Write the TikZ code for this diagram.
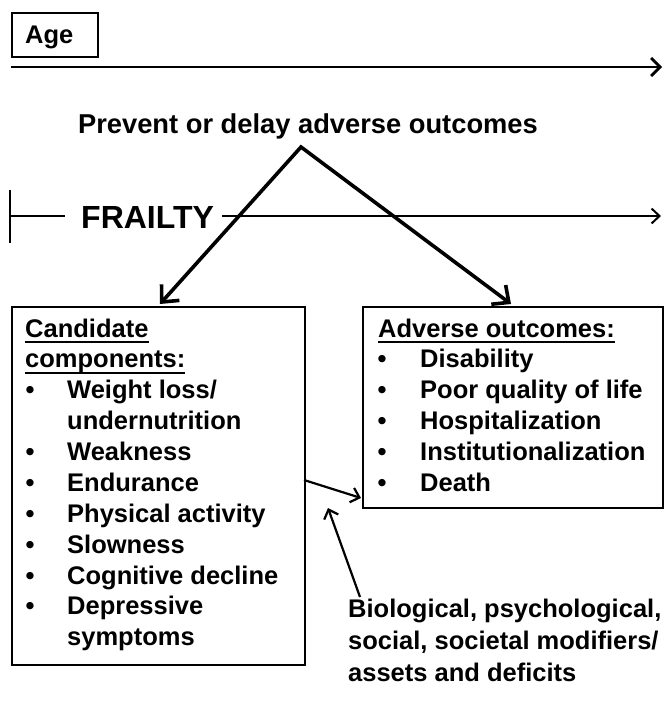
\documentclass[tikz,border=0pt]{standalone}
\usepackage{fontspec}
\setmainfont{Liberation Sans}
\usetikzlibrary{arrows.meta}
\begin{document}
\begin{tikzpicture}[x=1pt,y=-1pt,
  txt/.style={inner sep=0pt, anchor=base west, font=\bfseries\fontsize{25.5}{30}\selectfont},
  bigtxt/.style={inner sep=0pt, anchor=base west, font=\bfseries\fontsize{32}{38}\selectfont},
  boxframe/.style={draw, line width=1.5pt, inner sep=0pt, anchor=north west},
  uline/.style={line width=1.6pt},
  agearrow/.style={line width=2.8pt, -{Straight Barb[length=9pt,width=18pt]}},
  bigarrows/.style={line width=3.6pt, line join=miter,
     {Straight Barb[length=13pt,width=24pt]}-{Straight Barb[length=13pt,width=24pt]}},
  frailline/.style={line width=2pt},
  frailarrow/.style={line width=2pt, -{Straight Barb[length=8pt,width=15pt]}},
  smallarrow/.style={line width=2.2pt, -{Straight Barb[length=8pt,width=15pt]}}
]
\useasboundingbox (0,0) rectangle (664,705);

% Age
\node[boxframe, minimum width=86pt, minimum height=44pt] (agebox) at (11,12) {};
\node[txt] (agetxt) at (25,43) {Age};
\coordinate (age0) at (11,67);
\coordinate (age1) at (662,67);
\draw[agearrow] (age0) -- (age1);

% Prevent
\node[txt, anchor=base, font=\bfseries\fontsize{27.3}{32}\selectfont] (prev) at (308,133) {Prevent or delay adverse outcomes};
\coordinate (apex) at (301,147);
\coordinate (ltip) at (160,304);
\coordinate (rtip) at (511,304);

% Frailty
\coordinate (fbartop) at (10,190);
\coordinate (fbarbot) at (10,243);
\coordinate (fbar) at (10,216);
\coordinate (fleft) at (65,216);
\coordinate (fstart) at (222,216);
\coordinate (fend) at (661,216);
\draw[frailline] (fbartop) -- (fbarbot);
\draw[frailline] (fbar) -- (fleft);
\node[bigtxt] (frailty) at (81,228) {FRAILTY};
\draw[frailarrow] (fstart) -- (fend);

\draw[bigarrows] (ltip) -- (apex) -- (rtip);

% Boxes
\node[boxframe, minimum width=293pt, minimum height=358pt] (cand) at (11,306) {};
\node[boxframe, minimum width=300pt, minimum height=201pt] (adv) at (362,306) {};

% Left box text
\node[txt] (c1) at (25,337) {Candidate};
\node[txt] (c2) at (25,367) {components:};
\draw[uline] ([yshift=-5pt]c1.base west) -- ([yshift=-5pt]c1.base east);
\draw[uline] ([yshift=-6pt]c2.base west) -- ([yshift=-6pt]c2.base east);
\foreach \y/\t/\n in {398/Weight loss\slash/i1, 429/undernutrition/i1b, 460/Weakness/i2, 491/Endurance/i3, 522/Physical activity/i4, 553/Slowness/i5, 584/Cognitive decline/i6, 614/Depressive/i7, 645/symptoms/i7b}
  \node[txt] (\n) at (67,\y) {\t};
\foreach \y/\n in {398/b1, 460/b2, 491/b3, 522/b4, 553/b5, 584/b6, 614/b7}
  \node[txt] (\n) at (25.5,\y) {•};

% Right box text
\node[txt] (a0) at (378,337) {Adverse outcomes:};
\draw[uline] ([yshift=-5pt]a0.base west) -- ([yshift=-5pt]a0.base east);
\foreach \y/\t/\n in {367/Disability/o1, 398/Poor quality of life/o2, 429/Hospitalization/o3, 460/Institutionalization/o4, 491/Death/o5}
  \node[txt] (\n) at (420,\y) {\t};
\foreach \y/\n in {367/ob1, 398/ob2, 429/ob3, 460/ob4, 491/ob5}
  \node[txt] (\n) at (377.5,\y) {•};

% Modifiers
\node[txt] (m1) at (348,617) {Biological, psychological,};
\node[txt] (m2) at (348,649) {social, societal modifiers/};
\node[txt] (m3) at (348,681) {assets and deficits};

\coordinate (s1a) at (304,480);
\coordinate (s1b) at (361,498);
\draw[smallarrow] (s1a) -- (s1b);
\coordinate (s2a) at (360,597);
\coordinate (s2b) at (328,508);
\draw[smallarrow] (s2a) -- (s2b);
\end{tikzpicture}
\end{document}
